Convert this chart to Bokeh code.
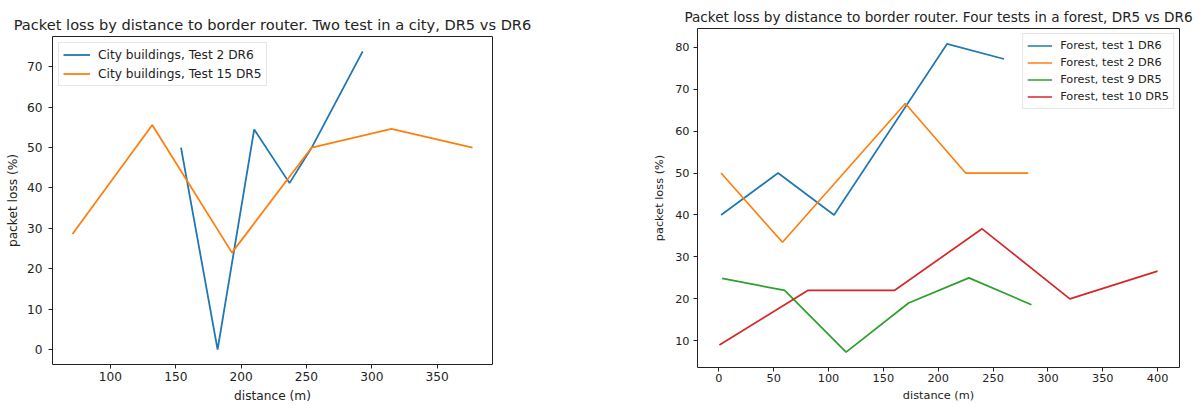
from bokeh.plotting import figure
from bokeh.models import Range1d, FixedTicker, Legend, LegendItem
from bokeh.embed import file_html
from bokeh.resources import INLINE

# ---- left chart data (city) ----
city_t2_x = [154, 182, 210, 237, 254, 293]
city_t2_y = [50.0, 0.0, 54.5, 41.2, 50.0, 73.8]
city_t15_x = [71, 132, 193, 254, 315, 377]
city_t15_y = [28.6, 55.6, 24.0, 50.0, 54.6, 50.0]
city_xticks = [100, 150, 200, 250, 300, 350]
city_yticks = [0, 10, 20, 30, 40, 50, 60, 70]

# ---- right chart data (forest) ----
forest_t1_x = [2, 54, 105, 208, 260]
forest_t1_y = [40.0, 50.0, 40.0, 80.8, 77.2]
forest_t2_x = [2, 58, 170, 225, 282]
forest_t2_y = [50.0, 33.5, 66.6, 50.0, 50.0]
forest_t9_x = [3, 60, 116, 173, 228, 285]
forest_t9_y = [24.9, 22.0, 7.3, 19.0, 25.0, 18.6]
forest_t10_x = [0.5, 81, 160, 240, 320, 400]
forest_t10_y = [9.0, 22.0, 22.0, 36.7, 20.0, 26.6]
forest_xticks = [0, 50, 100, 150, 200, 250, 300, 350, 400]
forest_yticks = [10, 20, 30, 40, 50, 60, 70, 80]

C_BLUE, C_ORANGE, C_GREEN, C_RED = "#1f77b4", "#ff7f0e", "#2ca02c", "#d62728"
FONT = "DejaVu Sans"
TXT = "#222222"


def padded(vals):
    lo, hi = min(vals), max(vals)
    m = 0.05 * (hi - lo)
    return Range1d(lo - m, hi + m)


def style(p, xticks, yticks, fs, title_fs, title_standoff,
          x_lab_sd, x_axlab_sd, y_lab_sd, y_axlab_sd):
    p.outline_line_color = "#222222"
    p.outline_line_width = 1
    p.xgrid.visible = False
    p.ygrid.visible = False
    p.background_fill_color = "white"
    p.border_fill_color = "white"
    p.xaxis.ticker = FixedTicker(ticks=xticks)
    p.yaxis.ticker = FixedTicker(ticks=yticks)
    for ax in (p.xaxis[0], p.yaxis[0]):
        ax.axis_line_color = None
        ax.major_tick_out = 4
        ax.major_tick_in = 0
        ax.minor_tick_out = 0
        ax.minor_tick_in = 0
        ax.major_tick_line_color = "#222222"
        ax.major_label_text_font = FONT
        ax.major_label_text_font_size = fs
        ax.major_label_text_color = TXT
        ax.axis_label_text_font = FONT
        ax.axis_label_text_font_size = fs
        ax.axis_label_text_font_style = "normal"
        ax.axis_label_text_color = TXT
    p.xaxis[0].major_label_standoff = x_lab_sd
    p.xaxis[0].axis_label_standoff = x_axlab_sd
    p.yaxis[0].major_label_standoff = y_lab_sd
    p.yaxis[0].axis_label_standoff = y_axlab_sd
    p.title.text_font = FONT
    p.title.text_font_size = title_fs
    p.title.text_font_style = "normal"
    p.title.text_color = TXT
    p.title.align = "center"
    p.title.standoff = title_standoff


def add_legend(p, items, loc, font_size, margin, glyph_w, spacing):
    lg = Legend(items=items, location=loc)
    lg.label_text_font = FONT
    lg.label_text_font_size = font_size
    lg.label_text_color = TXT
    lg.label_height = 15
    lg.glyph_height = 15
    lg.glyph_width = glyph_w
    lg.label_standoff = 8
    lg.padding = 4
    lg.spacing = spacing
    lg.margin = margin
    lg.border_line_color = "#cccccc"
    lg.border_line_width = 1
    lg.background_fill_color = "white"
    lg.background_fill_alpha = 0.8
    p.add_layout(lg)


# ---------- left figure ----------
p1 = figure(width=645, height=405, output_backend="svg", toolbar_location=None,
            title="Packet loss by distance to border router. Two test in a city, DR5 vs DR6",
            x_range=padded(city_t2_x + city_t15_x), y_range=padded(city_t2_y + city_t15_y),
            min_border_left=52, min_border_right=153, min_border_top=36, min_border_bottom=41,
            x_axis_label="distance (m)", y_axis_label="packet loss (%)")
style(p1, city_xticks, city_yticks, "12.2px", "14.6px", 8, 3, 5, 6, 4)
r1 = p1.line(city_t2_x, city_t2_y, line_color=C_BLUE, line_width=1.8)
r2 = p1.line(city_t15_x, city_t15_y, line_color=C_ORANGE, line_width=1.8)
add_legend(p1, [LegendItem(label="City buildings, Test 2 DR6", renderers=[r1]),
                LegendItem(label="City buildings, Test 15 DR5", renderers=[r2])],
           "top_left", "12.2px", 6, 27, 4)
p1.styles = {"position": "absolute", "left": "0px", "top": "0px"}

# ---------- right figure ----------
p2 = figure(width=553, height=405, output_backend="svg", toolbar_location=None,
            title="Packet loss by distance to border router. Four tests in a forest, DR5 vs DR6",
            x_range=padded(forest_t1_x + forest_t2_x + forest_t9_x + forest_t10_x),
            y_range=padded(forest_t1_y + forest_t2_y + forest_t9_y + forest_t10_y),
            min_border_left=52, min_border_right=19, min_border_top=28, min_border_bottom=38,
            x_axis_label="distance (m)", y_axis_label="packet loss (%)")
style(p2, forest_xticks, forest_yticks, "11.3px", "13.6px", 7, 2, 4, 4, 6)
s1 = p2.line(forest_t1_x, forest_t1_y, line_color=C_BLUE, line_width=1.7)
s2 = p2.line(forest_t2_x, forest_t2_y, line_color=C_ORANGE, line_width=1.7)
s3 = p2.line(forest_t9_x, forest_t9_y, line_color=C_GREEN, line_width=1.7)
s4 = p2.line(forest_t10_x, forest_t10_y, line_color=C_RED, line_width=1.7)
add_legend(p2, [LegendItem(label="Forest, test 1 DR6", renderers=[s1]),
                LegendItem(label="Forest, test 2 DR6", renderers=[s2]),
                LegendItem(label="Forest, test 9 DR5", renderers=[s3]),
                LegendItem(label="Forest, test 10 DR5", renderers=[s4])],
           "top_right", "11.3px", 5, 25, 2)
p2.styles = {"position": "absolute", "left": "645px", "top": "0px"}

open("out.html", "w").write(file_html([p1, p2], INLINE))
